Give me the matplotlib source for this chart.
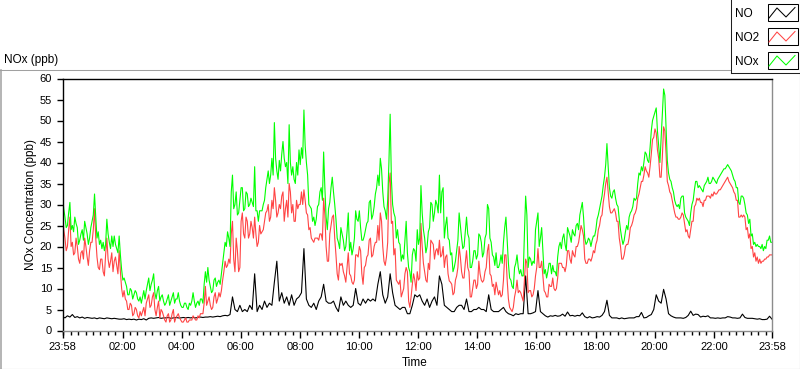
import matplotlib
matplotlib.use("Agg")
import matplotlib.pyplot as plt
from matplotlib.lines import Line2D
from matplotlib.patches import Rectangle
from matplotlib.ticker import FixedLocator

plt.rcParams['font.family'] = ['Liberation Sans', 'DejaVu Sans']

# ---- data: samples starting at 23:58 (minutes since start) ----
minutes = list(range(0, 1441, 5))          # on-the-5-minute samples
minutes_mid = [m + 2.5 for m in range(0, 1440, 5)]  # in-between samples

nox = [32.5, 27, 25, 30.5, 25, 27, 24.5, 21.5, 24, 26, 23, 22,
       26, 32.5, 22, 20.5, 19.5, 19, 26.5, 21, 22.5, 22.5, 19.5, 22.5,
       14.5, 12.5, 10.5, 8.5, 9.5, 8.5, 9, 7, 6.5, 9.5, 9.5, 12.5,
       11, 13.5, 7.5, 10.5, 8, 7, 6.5, 8.5, 7, 9, 7.5, 9,
       6, 5.5, 6.5, 5, 6, 9, 5.5, 7, 7.5, 6.5, 14, 15,
       10.5, 9.5, 12.5, 11.5, 11, 16, 21, 23.5, 20, 37, 30, 27.5,
       31, 34, 29, 32.5, 30, 30.5, 39, 28.5, 28.5, 28.5, 31, 36,
       35, 41, 49.5, 38, 40.5, 42, 41, 40, 49, 37, 36, 40,
       43, 43.5, 52.5, 40, 30, 29, 27, 26.5, 30, 34, 42.5, 27,
       29, 34, 33, 26.5, 21, 24.5, 21.5, 20, 28, 21, 19.5, 28.5,
       26, 24.5, 21.5, 24, 26, 31, 27.5, 32.5, 37, 41, 33, 28.5,
       31, 51.5, 30, 27, 24, 20.5, 18, 21.5, 18.5, 14, 18, 19,
       24, 22, 28, 22, 20, 24.5, 30, 28, 30, 37, 33, 22,
       27, 21.5, 18.5, 15, 19, 28, 22, 20, 27, 22, 15, 19,
       17, 23, 21, 18.5, 23, 29, 21, 17.5, 18.5, 15, 18, 21,
       27, 16, 12, 10, 16, 15, 14.5, 13, 32, 15, 17, 16.5,
       24, 28, 22, 19, 14.5, 14, 16, 15.5, 14, 17.5, 21, 22,
       20.5, 24.5, 22.5, 24, 22.5, 25.5, 27.5, 30.5, 22, 21, 21.5, 21.5,
       22.5, 26.5, 29, 32, 36.5, 44.5, 34, 31.5, 33.5, 30, 26.5, 22,
       21.5, 25, 27, 28.5, 31.5, 31.5, 37.5, 39, 40, 42, 40, 47.5,
       51, 53, 44, 46, 57.5, 48, 37.5, 35.5, 33, 30, 30, 31.5,
       32, 27, 26, 28, 31, 35.5, 34, 34, 33, 35, 36.5, 35,
       36.5, 35.5, 36, 37, 38, 38.5, 39.5, 38.5, 37, 35.5, 34, 30,
       32, 30, 27.5, 26.5, 23, 21, 20.5, 20, 20.5, 20, 21.5, 22.5, 21]

nox_mid = [29, 24.5, 28, 24, 23.5, 25.5, 20.5, 23, 21.5, 24.5, 20.5, 24.5,
           27.5, 27, 23.5, 21.5, 21, 20.5, 23, 19.5, 20, 20.5, 18.5, 18,
           12, 11.5, 8.5, 10, 7.5, 9.5, 7.5, 8, 8, 7.5, 11, 9.5,
           12, 9, 9.5, 7, 8.5, 6, 7.5, 6, 8, 6.5, 7.5, 7,
           5.5, 6.5, 5.5, 6.5, 7, 7, 6.5, 6, 7.5, 11, 11.5, 12,
           9, 12, 10.5, 12, 13.5, 18.5, 20, 22, 33, 29, 33, 28,
           34, 28.5, 33, 29.5, 31.5, 29.5, 28.5, 26, 28.5, 30, 34, 38,
           37, 37, 41, 36, 38, 45, 39, 35, 40, 39, 35, 37,
           39.5, 41, 44, 37, 29.5, 26, 25, 29.5, 33, 31, 34, 24,
           30.5, 36.5, 30, 22, 19.5, 23, 19, 23.5, 19, 18, 22, 26.5,
           28.5, 21.5, 22.5, 25.5, 30.5, 26.5, 29.5, 34, 34.5, 38.5, 29.5, 26.5,
           40, 36, 28, 22, 21, 16.5, 17, 26, 15, 11.5, 19.5, 16.5,
           20.5, 34.5, 24, 18.5, 23.5, 30.5, 26, 31, 28, 28, 34, 25,
           22, 18, 14, 16.5, 21.5, 25, 19.5, 23.5, 23, 15, 16.5, 19,
           18, 22.5, 17.5, 22, 30, 22, 18, 15.5, 15, 16, 16, 24.5,
           21.5, 12.5, 10.5, 15, 18, 13.5, 13, 23, 27.5, 17.5, 15.5, 16,
           26, 20, 24.5, 13.5, 12.5, 16, 13.5, 14, 13, 20, 19.5, 23,
           19, 23.5, 21, 23, 25, 24, 29, 27, 20.5, 22, 20, 22.5,
           24, 27.5, 30.5, 34.5, 39.5, 39, 32, 33, 31.5, 29.5, 24, 20.5,
           23.5, 24, 28, 29.5, 31, 35, 37, 38, 42.5, 40.5, 43.5, 50,
           52, 47.5, 40, 52, 56, 40.5, 36, 34, 31, 29.5, 29, 32,
           28, 26.5, 25, 30, 33.5, 35.5, 34.5, 33.5, 34.5, 35.5, 35, 35.5,
           36, 35, 36.5, 37.5, 38.5, 39, 39, 38, 36, 34, 30.5, 32,
           31.5, 28, 25.5, 22.5, 20.5, 20, 20, 19.5, 19, 19.5, 21.5, 21]

no2 = [29, 22, 20, 27, 21, 18.5, 20, 16, 19, 22, 17.5, 19,
       21, 29, 17.5, 14.5, 17, 13, 22, 15, 18.5, 16.5, 15.5, 19,
       10, 9.5, 7, 5, 6, 4, 5, 3, 3.5, 5.5, 6.5, 8.5,
       6, 9, 3.5, 7, 5, 3.5, 2, 4, 2.5, 5, 3, 4,
       2.5, 2, 3, 2, 2.5, 3.5, 2.5, 3.5, 4, 4, 10.5, 7,
       6, 5.5, 9, 7.5, 8, 12, 16.5, 15.5, 16, 26, 14, 19,
       15, 28, 22, 26, 23, 24.5, 27, 20, 25, 23.5, 26, 28.5,
       26, 31, 34, 27, 30, 32, 26, 31, 35, 28, 26, 31,
       30, 33, 33.5, 28, 24, 22, 21, 22, 21.5, 23, 31.5, 20,
       16.5, 25, 27.5, 18, 12, 15.5, 14, 11.5, 18.5, 13, 11, 18,
       17.5, 19, 11, 15.5, 18, 22, 18, 21, 25, 28, 20, 15.5,
       21, 37.5, 26, 19.5, 11.5, 12, 9, 13.5, 14, 5.5, 11, 12,
       14, 12.5, 20, 14, 11.5, 14.5, 21, 17, 19.5, 21.5, 18, 15,
       18, 11.8, 11, 9, 13, 20, 14, 12.5, 19, 14, 8, 12,
       10, 16.5, 12, 12, 15, 20.5, 13, 11, 11.5, 8.5, 8, 12,
       18, 7.5, 5, 5.5, 9.5, 9, 9, 7, 17, 9, 9.5, 8.5,
       13, 19.5, 15, 13, 9, 8, 10.5, 12.5, 9.5, 12.5, 16, 15,
       14, 19, 17, 19, 17.5, 20, 23, 24, 17, 16, 17, 17.5,
       18.5, 21.5, 25, 27.5, 32.5, 36.5, 29.5, 28, 29, 26, 22, 17,
       18, 20.5, 22, 25, 27.5, 29, 32.5, 35.5, 37, 38, 36.5, 42,
       46, 47, 41, 36.5, 48.5, 42, 34.5, 32.5, 29.5, 27, 26.5, 27,
       27.5, 23.5, 22.5, 24, 26, 30, 31, 30.5, 29.5, 31, 32, 31.5,
       32, 32.5, 33, 33.5, 34.5, 35.5, 36.5, 35, 34, 32.5, 31, 27,
       27, 27, 24.5, 23, 20, 18.5, 17.5, 17, 16.5, 17, 17.5, 18, 18]

no2_mid = [24, 19, 24, 20, 18, 22, 17, 18.5, 17, 20, 15.5, 21,
           24, 22, 15, 17, 14, 18, 17, 16.5, 14, 17.5, 13.5, 14,
           8, 7.5, 5, 6.5, 3.5, 5.5, 3.5, 4.5, 4.5, 3.5, 7.5, 5.5,
           8, 5, 5.5, 3, 4.5, 2.5, 3.5, 2, 4, 2, 3.5, 3,
           2, 2.5, 2, 2.5, 2.5, 3, 2.5, 3, 4, 6.5, 6, 8,
           5, 8, 6.5, 9, 9.5, 14, 15, 17, 23, 17, 22, 14,
           26, 23, 27, 22, 26, 22, 23, 21, 23, 24, 28, 30,
           27, 29, 31, 28, 29, 33, 29, 27, 33, 30, 26, 29,
           30, 30, 31, 27.5, 24.5, 21.5, 22, 22, 23, 21.5, 27.5, 16.5,
           23, 27, 22, 13.5, 16, 16, 13, 15, 13.5, 11.5, 12, 18,
           20, 13.5, 15, 17.5, 21.5, 17.5, 20, 21, 21.5, 26, 16.5, 17.5,
           35, 25.5, 18, 12, 11, 8, 10, 15, 7, 8, 13.5, 9.5,
           12, 25.5, 16, 12, 16, 21.5, 20.5, 19, 18, 17.5, 20, 17.5,
           13.5, 11.5, 8.5, 12, 15, 17.5, 12.5, 16, 15, 8, 10, 12,
           11, 13.5, 11.5, 14, 19, 13.5, 10.5, 8.5, 10, 9.5, 8.5, 18,
           12, 5.5, 4.5, 8, 12, 9.5, 8, 12, 16, 9.5, 8, 10,
           15, 15, 16.5, 9.5, 8, 11, 10.5, 10, 10, 16, 16, 15,
           15.5, 19, 16, 18, 20, 21, 25, 22.5, 16, 17, 16.5, 19,
           20.5, 24, 27, 30.5, 35, 33, 28, 28.5, 28, 26, 20, 17,
           20, 20.5, 24.5, 26, 28, 31.5, 34, 35.5, 39, 37.5, 39, 45.5,
           48, 43, 36.5, 41.5, 47.5, 35.5, 33, 31, 28, 27, 26.5, 28,
           25.5, 24, 22, 26, 29.5, 31.5, 31.5, 30.5, 31, 32, 32, 32.5,
           33, 32.5, 33.5, 34, 35, 36, 35.5, 34.5, 33, 31, 27, 27.5,
           27.5, 24, 22, 19.5, 17.5, 16.5, 16, 16, 16.5, 17, 17.5, 18]

no = [3.3, 3.0, 3.5, 3.2, 3.8, 3.1, 3.3, 3.0, 3.2, 2.9, 3.1, 3.0,
      2.9, 3.0, 2.8, 3.0, 2.9, 2.8, 3.0, 2.9, 2.8, 2.9, 2.8, 2.7,
      2.7, 2.8, 2.6, 2.7, 2.6, 2.7, 2.5, 2.7, 2.6, 2.8, 2.5, 2.9,
      3.0, 2.9, 3.0, 3.1, 2.9, 3.0, 3.0, 3.1, 2.9, 3.0, 3.1, 3.0,
      3.0, 3.1, 3.0, 3.1, 3.0, 3.1, 3.0, 3.1, 3.2, 3.1, 3.2, 3.2,
      3.3, 3.2, 3.3, 3.4, 3.3, 3.5, 3.6, 3.5, 3.8, 8, 5, 4.5,
      6, 4.5, 5, 4.5, 6, 5, 13.5, 4.5, 6, 5, 7, 5.5,
      6.5, 6, 11.5, 16.5, 7, 9, 6.5, 8, 6, 8.5, 6, 7.5,
      8, 9, 19.5, 7.5, 6, 5.5, 6.5, 5, 7, 8, 11, 7,
      6.5, 6.5, 7, 5.5, 4.5, 8, 6, 7, 6, 5.5, 6, 10,
      6.5, 6, 7.5, 6.5, 7.5, 7, 7.5, 7, 11, 14, 8.5, 6.5,
      8, 13.5, 9, 6, 5.5, 5, 5.5, 5.5, 4, 4, 6, 8.5,
      8, 8.5, 7, 6, 7.5, 5.5, 7, 8, 6, 13, 11, 6,
      5.5, 5, 4.5, 4.5, 5.5, 6, 6, 5, 7.5, 4.5, 4.5, 5,
      5, 5.5, 5, 5, 4.5, 8.5, 5, 4.5, 4.5, 4.5, 5, 5.5,
      4.5, 4, 3.8, 3.5, 4, 3.8, 4, 4, 13, 4, 4, 4.2,
      4.5, 9.5, 4.5, 4, 3.5, 3.2, 3.5, 3.4, 3.6, 3.4, 3.5, 3.9,
      3.4, 4.4, 3.5, 3.6, 3.4, 3.6, 3.5, 4.2, 3.3, 3.0, 3.3, 3.0,
      3.1, 3.3, 3.2, 3.6, 4.5, 7.2, 3.6, 3.0, 3.0, 3.0, 2.8, 3.0,
      2.8, 2.9, 3.0, 3.0, 3.0, 3.3, 3.3, 4.3, 3.0, 3.1, 3.5, 3.8,
      5, 8.5, 7, 6.5, 9.8, 7.5, 4, 3.5, 3.2, 3.0, 3.0, 3.0,
      2.9, 3.1, 3.6, 4.6, 3.6, 3.9, 3.8, 3.2, 3.4, 3.3, 3.5, 3.0,
      3.0, 2.9, 3.0, 2.9, 3.0, 3.0, 3.3, 3.2, 3.0, 3.0, 2.9, 3.0,
      3.9, 3.1, 2.9, 2.9, 2.9, 2.8, 2.7, 2.8, 2.6, 2.6, 2.7, 3.4, 2.7]

tick_minutes = [0, 122, 242, 362, 482, 602, 722, 842, 962, 1082, 1202, 1322, 1440]
tick_labels = ['23:58', '02:00', '04:00', '06:00', '08:00', '10:00', '12:00',
               '14:00', '16:00', '18:00', '20:00', '22:00', '23:58']
y_ticks = [0, 5, 10, 15, 20, 25, 30, 35, 40, 45, 50, 55, 60]

series_names = ['NO', 'NO2', 'NOx']
series_colors = ['#000000', '#ff4444', '#00ff00']


def merge(t_a, v_a, t_b, v_b):
    pts = sorted(list(zip(t_a, v_a)) + list(zip(t_b, v_b)))
    return [p[0] for p in pts], [p[1] for p in pts]


t_nox, v_nox = merge(minutes, nox, minutes_mid, nox_mid)
t_no2, v_no2 = merge(minutes, no2, minutes_mid, no2_mid)

# ---- figure ----
W, H = 800, 369
fig = plt.figure(figsize=(W / 100, H / 100), dpi=100)
fig.patch.set_facecolor('white')


def fx(x):
    return x / W


def fy(y):
    return 1 - y / H


ax = fig.add_axes([fx(62.5), fy(330.5), (772 - 62.5) / W, (330.5 - 78.5) / H])
ax.plot(minutes, no, color=series_colors[0], lw=0.8)
ax.plot(t_no2, v_no2, color=series_colors[1], lw=0.8)
ax.plot(t_nox, v_nox, color=series_colors[2], lw=0.8)

ax.set_xlim(0, 1440)
ax.set_ylim(0, 60)
ax.set_xticks(tick_minutes)
ax.set_xticklabels(tick_labels)
minor = [m for m in range(2, 1440, 15) if m not in tick_minutes]
ax.xaxis.set_minor_locator(FixedLocator(minor))
ax.set_yticks(y_ticks)
ax.set_yticklabels([str(v) for v in y_ticks])
ax.tick_params(axis='x', which='major', length=5, width=1, pad=3, labelsize=8, color='black')
ax.tick_params(axis='x', which='minor', length=3, width=1, color='black')
ax.tick_params(axis='y', which='major', length=4.5, width=1, pad=3, labelsize=8, color='black')
for side, s in ax.spines.items():
    s.set_linewidth(1.0)
    s.set_color('black' if side in ('top', 'left') else '#8c8c8c')

# axis labels and title
fig.text(fx(31.5), fy(204), 'NOx Concentration (ppb)', rotation=90,
         ha='center', va='center', fontsize=8.5)
fig.text(fx(415), fy(366), 'Time', ha='center', va='baseline', fontsize=8.5)
fig.text(fx(4), fy(63.3), 'NOx (ppb)', ha='left', va='baseline', fontsize=8.5)

# outer frame
fig.add_artist(Line2D([fx(0), fx(730)], [fy(69.5), fy(69.5)], color='#a0a0a0', lw=0.75))
fig.add_artist(Line2D([fx(0.7), fx(0.7)], [fy(69.5), fy(368.5)], color='#a0a0a0', lw=1.1))
fig.add_artist(Line2D([fx(0), fx(800)], [fy(368.5), fy(368.5)], color='black', lw=0.75))
fig.add_artist(Line2D([fx(799.5), fx(799.5)], [fy(0), fy(369)], color='black', lw=0.75))

# legend box
fig.add_artist(Line2D([fx(730.5), fx(730.5)], [fy(0), fy(72.5)], color='#202020', lw=0.75))
fig.add_artist(Line2D([fx(730.5), fx(800)], [fy(72.5), fy(72.5)], color='#202020', lw=0.75))
for r, (name, col) in enumerate(zip(series_names, series_colors)):
    dy = 24 * r
    fig.text(fx(735), fy(16.7 + dy), name, ha='left', va='baseline', fontsize=8.5)
    fig.add_artist(Rectangle((fx(767.5), fy(21 + dy)), 30 / W, 17 / H,
                             facecolor='white', edgecolor='black', lw=0.75,
                             transform=fig.transFigure))
    fig.add_artist(Line2D([fx(769), fx(777), fx(786), fx(795)],
                          [fy(18 + dy), fy(8 + dy), fy(17 + dy), fy(7.5 + dy)],
                          color=col, lw=0.75))

fig.savefig('out.png', dpi=100, facecolor='white')
